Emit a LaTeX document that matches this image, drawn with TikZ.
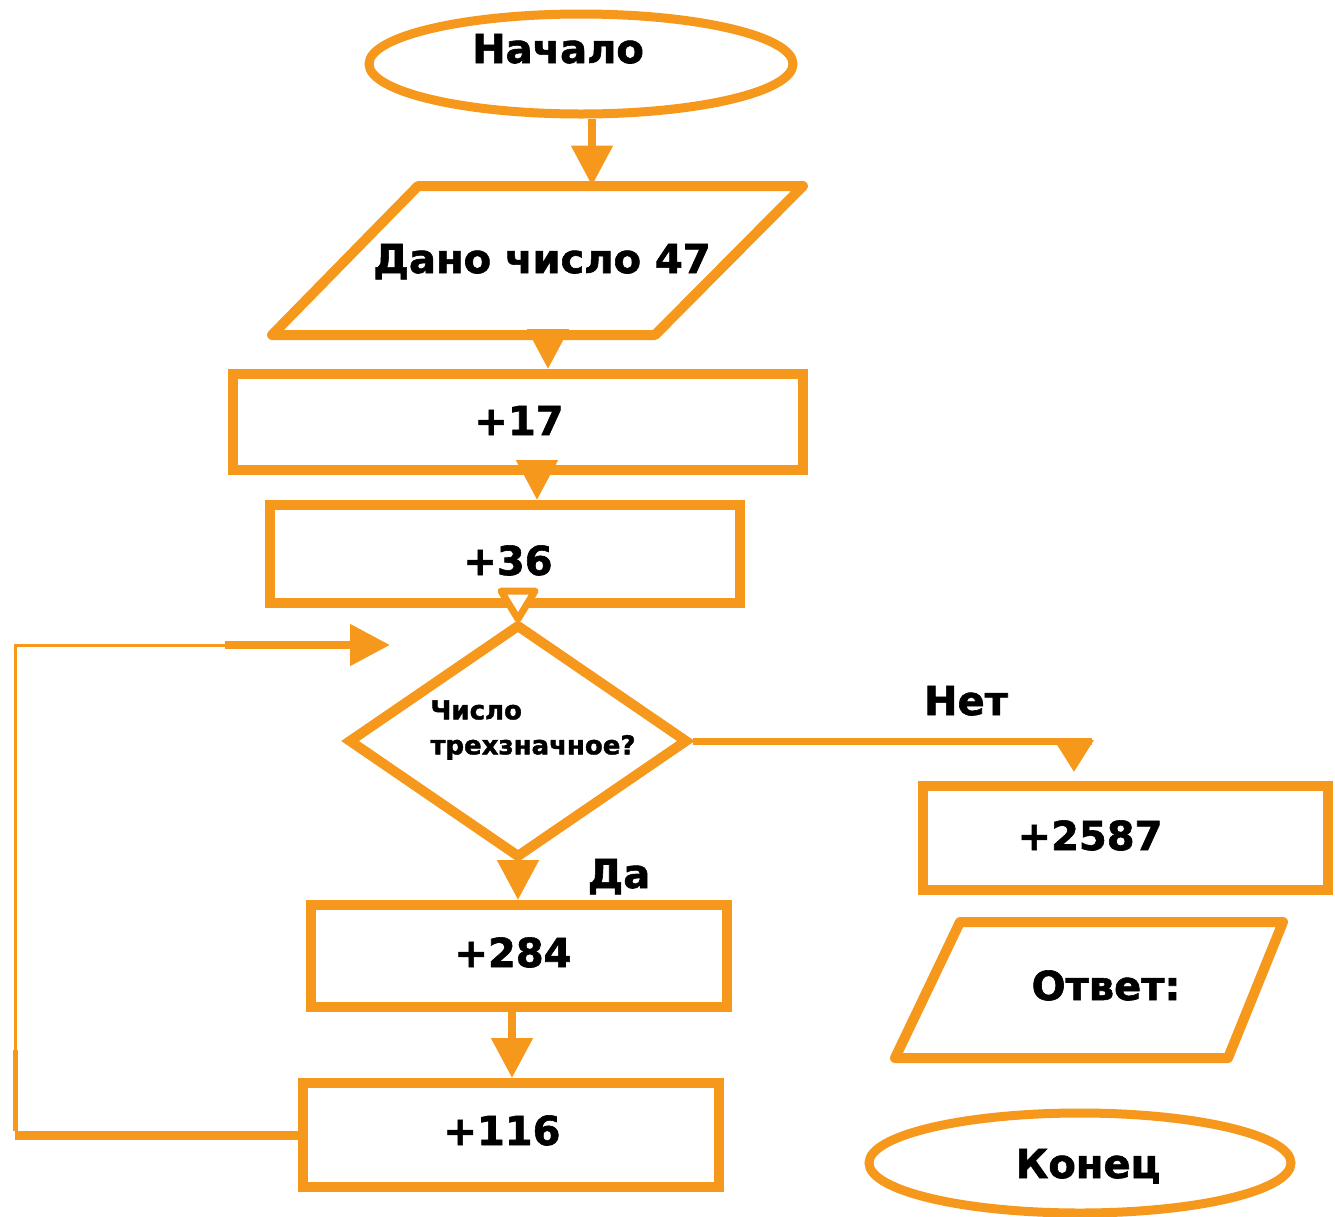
\documentclass[tikz,border=0pt]{standalone}
\usepackage{fontspec}
\setmainfont[BoldFeatures={FakeBold=1.5}]{DejaVu Sans}
\usetikzlibrary{shapes.geometric,arrows.meta}
\definecolor{orng}{RGB}{246,152,28}
\begin{document}
\begin{tikzpicture}[x=0.5pt,y=-0.5pt,
  lbl/.style={font=\bfseries\fontsize{20}{24}\selectfont, text=black, inner sep=0pt, anchor=base},
  small/.style={font=\bfseries\fontsize{13}{17.5}\selectfont, text=black, inner sep=0pt, align=left},
  box/.style={draw=orng, line width=5pt, rectangle, inner sep=0pt},
  term/.style={draw=orng, line width=4.5pt, ellipse, inner sep=0pt},
  para/.style={draw=orng, line width=5pt, line join=round, line cap=round},
  conn/.style={draw=orng, line width=4pt, -{Triangle[width=20pt,length=20pt]}},
  thin/.style={draw=orng, line width=1.5pt},
]
\useasboundingbox (0,0) rectangle (1335,1217);
\fill[white] (0,0) rectangle (1335,1217);

% start
\node[term, minimum width=212pt, minimum height=50pt] (start) at (581,64) {};
\node[lbl] (tstart) at (558,63) {Начало};

% input parallelogram
\draw[para] (418,186) -- (803,186) -- (655,335) -- (272,335) -- cycle;
\node[inner sep=0pt, minimum width=100pt, minimum height=74.5pt] (p1) at (542,260.5) {};
\node[lbl] (tp1) at (542,273) {Дано число 47};

% boxes
\node[box, minimum width=285pt, minimum height=48pt] (b17) at (518,422) {};
\node[lbl] (t17) at (519,435) {+17};
\node[box, minimum width=235pt, minimum height=49pt] (b36) at (505,554) {};
\node[lbl] (t36) at (508,575) {+36};

% decision
\node[diamond, draw=orng, line width=5pt, minimum width=170pt, minimum height=117pt, inner sep=0pt] (dia) at (518,741) {};
\node[small, anchor=north west] (tq) at (430,700) {Число\\трехзначное?};

\node[box, minimum width=208pt, minimum height=51pt] (b284) at (519,956) {};
\node[lbl] (t284) at (513,967) {+284};
\node[box, minimum width=208pt, minimum height=52pt] (b116) at (511,1135) {};
\node[lbl] (t116) at (502,1145) {+116};

\node[box, minimum width=202.5pt, minimum height=52pt] (b2587) at (1125.5,838) {};
\node[lbl] (t2587) at (1090,850) {+2587};

\draw[para] (960,922) -- (1283,922) -- (1228,1058) -- (895,1058) -- cycle;
\node[inner sep=0pt, minimum width=100pt, minimum height=68pt] (p2) at (1090,990) {};
\node[lbl] (tans) at (1106,1000) {Ответ:};

\node[term, minimum width=211pt, minimum height=50pt] (end) at (1080,1163) {};
\node[lbl] (tend) at (1088,1178) {Конец};

% labels
\node[lbl] (no) at (966,715) {Нет};
\node[lbl] (yes) at (619,888) {Да};

% connectors
\draw[conn] ([xshift=5.5pt]start.south) -- ([xshift=5.5pt]start.south |- p1.north);
\draw[conn] ([xshift=3pt]p1.south) -- ([xshift=3pt]p1.south |- b17.north);
\draw[conn] ([xshift=9.5pt]b17.south) -- ([xshift=9.5pt]b17.south |- b36.north);
\draw[orng, line width=3.5pt, fill=white, line join=round] ([xshift=-8.5pt,yshift=14pt]dia.north) -- ([xshift=8.5pt,yshift=14pt]dia.north) -- (dia.north) -- cycle;
\draw[conn] (dia.south) -- (dia.south |- b284.north);
\draw[conn] ([xshift=-3.5pt]b284.south) -- ([xshift=-3.5pt]b284.south |- b116.north);

% loop back
\coordinate (lp) at (15,645);
\coordinate (lm) at (225,645);
\coordinate (la) at (390,645);
\draw[orng, line width=4.5pt] (b116.west) -- (b116.west -| lp);
\draw[orng, line width=2.5pt] ([yshift=2pt]b116.west -| lp) -- (15,1050);
\draw[thin] (15,1050) -- (lp) -- (lm);
\draw[conn] (lm) -- (la);

% no branch
\coordinate (nt) at (1074,772);
\draw[orng, line width=3.5pt] (dia.east) -- (dia.east -| 1092,0);
\draw[orng, line width=3.5pt, -{Triangle[width=19pt,length=16pt]}] (dia.east -| nt) -- (nt);
\end{tikzpicture}
\end{document}
